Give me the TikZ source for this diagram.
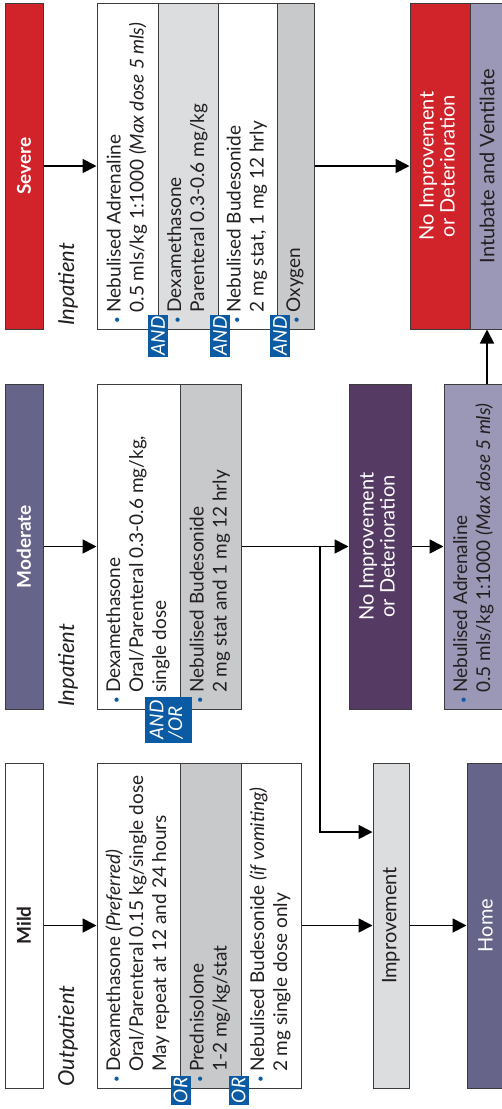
\documentclass[tikz,border=0pt]{standalone}
\usepackage{fontspec}
\setmainfont{Lato}
\usetikzlibrary{arrows.meta}
\definecolor{sevred}{HTML}{D0232A}
\definecolor{modslate}{HTML}{67648A}
\definecolor{darkpurp}{HTML}{553A63}
\definecolor{lav}{HTML}{9A98B6}
\definecolor{gryA}{HTML}{DCDDDF}
\definecolor{gryB}{HTML}{C8C9CB}
\definecolor{bulblue}{HTML}{0A5BA3}
\definecolor{edgec}{HTML}{3C3C3C}
\definecolor{ink}{HTML}{231F20}
\newcommand{\bul}{{\color{bulblue}\scalebox{0.6}{\textbullet}}\hspace{4pt}}
\newcommand{\colc}[1]{\rotatebox{90}{\parbox{314pt}{\bul\begin{tabular}[t]{@{}l@{}}#1\end{tabular}}}}
\newcommand{\rtx}[1]{\rotatebox{90}{#1}}
\begin{document}
\begin{tikzpicture}[x=1pt,y=-1pt,
  box/.style={draw=edgec, line width=1pt, inner sep=0pt, text=ink},
  txt/.style={font=\fontsize{19}{23}\selectfont},
  hdr/.style={box, minimum width=38pt, minimum height=326pt, font=\fontsize{19}{21}\selectfont\bfseries},
  colbox/.style={box, txt, minimum height=326pt},
  bigtxt/.style={box, minimum height=326pt, font=\fontsize{20}{21}\selectfont},
  arr/.style={draw=black, line width=1.8pt, -{Triangle[length=14pt,width=14pt]}},
  badge/.style={fill=bulblue, text=white, inner sep=0pt, font=\fontsize{19}{17}\selectfont\itshape},
  side/.style={font=\fontsize{22}{22}\selectfont\itshape, text=ink, inner sep=0pt}]
\useasboundingbox (0,0) rectangle (502,1109);
% ---------------- Severe ----------------
\node[hdr, fill=sevred, text=white] (sevh) at (24,166) {\rtx{Severe}};
\node[side, anchor=south] (sevlab) at (68,326) {\rtx{Inpatient}};
\node[colbox, fill=white, minimum width=61pt] (sev1) at (127.5,166) {\colc{Nebulised Adrenaline\\0.5 mls/kg 1:1000 \textit{(Max dose 5 mls)}}};
\node[colbox, fill=gryA, minimum width=60pt] (sev2) at (188,166) {\colc{Dexamethasone\\Parenteral 0.3-0.6 mg/kg}};
\node[colbox, fill=white, minimum width=59pt] (sev3) at (247.5,166) {\colc{Nebulised Budesonide\\2 mg stat, 1 mg 12 hrly}};
\node[colbox, fill=gryB, minimum width=37pt] (sev4) at (295.5,166) {\colc{Oxygen}};
\node[bigtxt, fill=sevred, text=white, minimum width=60pt] (sevni) at (440,166) {\rtx{\begin{tabular}{@{}c@{}}No Improvement\\or Deterioration\end{tabular}}};
\node[bigtxt, fill=lav, minimum width=34pt] (intub) at (487,166) {\rtx{Intubate and Ventilate}};
\node[badge, minimum width=20pt, minimum height=42pt] (b1) at (158,336) {\rtx{AND}};
\node[badge, minimum width=20pt, minimum height=42pt] (b2) at (220,336) {\rtx{AND}};
\node[badge, minimum width=20pt, minimum height=42pt] (b3) at (280,336) {\rtx{AND}};
% ---------------- Moderate ----------------
\node[hdr, fill=modslate, text=white, minimum height=325pt] (modh) at (24,546.5) {\rtx{Moderate}};
\node[side, anchor=south] (modlab) at (68,707) {\rtx{Inpatient}};
\node[colbox, fill=white, minimum width=83pt, minimum height=325pt] (mod1) at (138.5,546.5) {\colc{Dexamethasone\\Oral/Parenteral 0.3-0.6 mg/kg,\\single dose}};
\node[colbox, fill=gryB, minimum width=61pt, minimum height=325pt] (mod2) at (210.5,546.5) {\colc{Nebulised Budesonide\\2 mg stat and 1 mg 12 hrly}};
\node[bigtxt, fill=darkpurp, text=white, minimum width=62pt, minimum height=325pt] (modni) at (380,546.5) {\rtx{\begin{tabular}{@{}c@{}}No Improvement\\or Deterioration\end{tabular}}};
\node[colbox, fill=lav, minimum width=60pt, minimum height=325pt] (adren) at (474,546.5) {\colc{Nebulised Adrenaline\\0.5 mls/kg 1:1000 \textit{(Max dose 5 mls)}}};
\node[badge, minimum width=47pt, minimum height=46pt] (b4) at (168.5,720) {\rtx{\begin{tabular}{@{}l@{}}AND\\/OR\end{tabular}}};
% ---------------- Mild ----------------
\node[hdr, fill=white, text=ink, minimum height=325pt] (mildh) at (24,925.5) {\rtx{Mild}};
\node[side, anchor=south] (mildlab) at (68,1087) {\rtx{Outpatient}};
\node[colbox, fill=white, minimum width=83pt, minimum height=325pt] (mild1) at (138.5,925.5) {\colc{Dexamethasone \textit{(Preferred)}\\Oral/Parenteral 0.15 kg/single dose\\May repeat at 12 and 24 hours}};
\node[colbox, fill=gryB, minimum width=61pt, minimum height=325pt] (mild2) at (210.5,925.5) {\colc{Prednisolone\\1-2 mg/kg/stat}};
\node[colbox, fill=white, minimum width=60pt, minimum height=325pt] (mild3) at (271,925.5) {\colc{Nebulised Budesonide \textit{(if vomiting)}\\2 mg single dose only}};
\node[bigtxt, fill=gryA, minimum width=36pt, minimum height=325pt] (impr) at (391,925.5) {\rtx{Improvement}};
\node[bigtxt, fill=modslate, text=white, minimum width=37pt, minimum height=325pt] (home) at (485.5,925.5) {\rtx{Home}};
\node[badge, minimum width=20pt, minimum height=29pt] (b5) at (180.5,1090.5) {\rtx{OR}};
\node[badge, minimum width=20pt, minimum height=29pt] (b6) at (238.5,1090.5) {\rtx{OR}};
% ---------------- connectors ----------------
\draw[arr] (sevh.east) -- (sev1.west);
\draw[arr] (sev4.east) -- (sevni.west);
\draw[arr] (adren.north -| intub.south) -- (intub.south);
\draw[arr] (modh.east) -- (mod1.west);
\draw[arr] (mod2.east) -- (modni.west);
\draw[arr] (modni.east) -- (adren.west);
\coordinate (br) at (320,546.5);
\coordinate (impin) at (impr.west |- 0,832);
\draw[arr] (br) |- (impin);
\draw[arr] (mildh.east) -- (mild1.west);
\draw[arr] (mild3.east) -- (impr.west);
\draw[arr] (impr.east) -- (home.west);
\end{tikzpicture}
\end{document}
